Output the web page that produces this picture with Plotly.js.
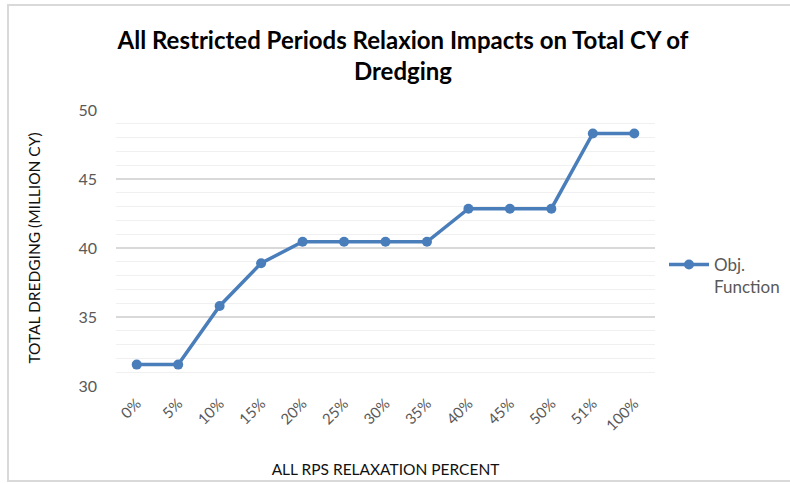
<!DOCTYPE html>
<html>
<head>
<meta charset="utf-8">
<script src="https://cdn.plot.ly/plotly-3.0.1.min.js"></script>
<style>html,body{margin:0;padding:0;background:#fff;}#chart{width:790px;height:483px;}</style>
</head>
<body>
<div id="chart"></div>
<script>
const categories = ["0%","5%","10%","15%","20%","25%","30%","35%","40%","45%","50%","51%","100%"];
const objFunction = [31.55, 31.55, 35.8, 38.9, 40.45, 40.45, 40.45, 40.45, 42.85, 42.85, 42.85, 48.3, 48.3];
const seriesName = "Obj.<br>Function";
const chartTitle = "All Restricted Periods Relaxion Impacts on Total CY of<br>Dredging";
const xTitle = "ALL RPS RELAXATION PERCENT";
const yTitle = "TOTAL DREDGING (MILLION CY)";

const FONT = "Lato, 'Open Sans', sans-serif";
const W = 790, H = 483, L = 116, R = 135, T = 110, B = 97;
const pw = W - L - R, ph = H - T - B;
const px = x => (x - L) / pw;
const py = y => (H - B - y) / ph;

const trace = {
  x: categories, y: objFunction, type: 'scatter', mode: 'lines+markers',
  name: seriesName,
  line: {color: '#4A7EBB', width: 3.5},
  marker: {color: '#4A7EBB', size: 10},
  showlegend: true
};

const layout = {
  width: W, height: H,
  margin: {l: L, r: R, t: T, b: B, pad: 0, autoexpand: false},
  paper_bgcolor: '#ffffff', plot_bgcolor: '#ffffff',
  font: {family: FONT, color: '#595959', size: 14},
  title: {text: chartTitle, x: 403 / W, xanchor: 'center', xref: 'container',
          y: 1 - 49 / H, yanchor: 'middle', yref: 'container',
          font: {family: FONT, size: 24, color: '#000000', weight: 'bold'}},
  xaxis: {type: 'category', range: [-0.5, 12.5], showgrid: false, zeroline: false,
          showline: false, ticks: '', tickangle: -45, ticklabelstandoff: 5,
          tickfont: {family: FONT, size: 15, color: '#595959'},
          title: {text: xTitle, standoff: 31, font: {family: FONT, size: 15.5, color: '#111111'}}},
  yaxis: {range: [30, 50], dtick: 5, tick0: 30, showgrid: true, gridcolor: '#D9D9D9', gridwidth: 1.3,
          zeroline: false, showline: false, ticks: '', ticklabelstandoff: 18,
          tickfont: {family: FONT, size: 16, color: '#595959'},
          minor: {dtick: 1, showgrid: true, gridcolor: '#F0F0F0', gridwidth: 1},
          title: {text: yTitle, standoff: 34, font: {family: FONT, size: 15.5, color: '#111111'}}},
  legend: {x: px(664), xanchor: 'left', y: py(247), yanchor: 'top', valign: 'top',
           bgcolor: 'rgba(0,0,0,0)', font: {family: FONT, size: 17, color: '#595959'},
           itemwidth: 40, tracegroupgap: 0},
  shapes: [{type: 'rect', xref: 'paper', yref: 'paper',
            x0: px(8), x1: px(795), y0: py(481), y1: py(5),
            line: {color: '#D9D9D9', width: 2}, fillcolor: 'rgba(0,0,0,0)', layer: 'below'}]
};

Plotly.newPlot('chart', [trace], layout, {displayModeBar: false, staticPlot: true});
</script>
</body>
</html>
